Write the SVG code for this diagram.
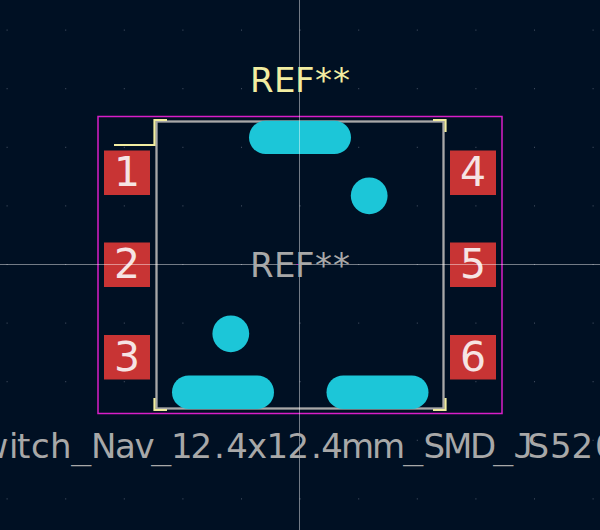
<svg xmlns="http://www.w3.org/2000/svg" width="600" height="530" viewBox="0 0 600 530">
<style>
.grid{fill:#4a5568}
.pad{fill:#c83434}
.num{font-family:"DejaVu Sans",sans-serif;font-size:41px;fill:#f6e4e4;text-anchor:middle}
.via{fill:#1cc6d8}
.silk{fill:none;stroke:#f2eda1;stroke-width:2.2}
.ref{font-family:"DejaVu Sans",sans-serif;font-size:34px}
.fab{fill:#a8a8a8}
.mono{font-family:"DejaVu Sans Mono",monospace}
</style>
<defs>
<pattern id="dots" x="6.6" y="29.6" width="58.6" height="58.6" patternUnits="userSpaceOnUse"><rect x="0" y="0" width="1" height="1" class="grid"/></pattern>
</defs>
<rect width="600" height="530" fill="#001023"/>
<rect id="grid" width="600" height="530" fill="url(#dots)"/>
<g id="courtyard"><rect x="98" y="116.500" width="404" height="297" fill="none" stroke="#d81ec8" stroke-width="1.500"/></g>
<g id="fab-outline"><rect x="156.500" y="121.500" width="287" height="287" fill="none" stroke="#a8a8a8" stroke-width="2.300"/></g>
<g id="silk-outline">
<path class="silk" d="M114 145H154.500V120H167"/>
<path class="silk" d="M433 120H445.500V132"/>
<path class="silk" d="M154.500 398V410H167"/>
<path class="silk" d="M433 410H445.500V398"/>
</g>
<g id="pad-a"><rect class="via" x="249" y="120.700" width="102" height="33.400" rx="16.700"/></g>
<g id="pad-b"><rect class="via" x="172" y="375.400" width="102" height="33.600" rx="16.800"/></g>
<g id="pad-c"><rect class="via" x="326.500" y="375.400" width="102" height="33.600" rx="16.800"/></g>
<g id="hole-a"><circle class="via" cx="369.200" cy="195.800" r="18.400"/></g>
<g id="hole-b"><circle class="via" cx="230.800" cy="333.800" r="18.400"/></g>
<g id="pin-1"><rect class="pad" x="104" y="150.500" width="46" height="44.500"/><text class="num" x="127" y="185.500">1</text></g>
<g id="pin-2"><rect class="pad" x="104" y="242.500" width="46" height="44.500"/><text class="num" x="127" y="278">2</text></g>
<g id="pin-3"><rect class="pad" x="104" y="335" width="46" height="44.500"/><text class="num" x="127" y="370.500">3</text></g>
<g id="pin-4"><rect class="pad" x="450" y="150.500" width="46" height="44.500"/><text class="num" x="473" y="185.500">4</text></g>
<g id="pin-5"><rect class="pad" x="450" y="242.500" width="46" height="44.500"/><text class="num" x="473" y="278">5</text></g>
<g id="pin-6"><rect class="pad" x="450" y="335" width="46" height="44.500"/><text class="num" x="473" y="370.500">6</text></g>
<g id="crosshair" stroke="#fff" stroke-opacity=".45" stroke-width="1"><path d="M299.500 0V530M0 264.500H600" fill="none"/></g>
<g id="ref-silk"><text class="ref" x="250 274 295 315 333" y="92" fill="#f2eda1">REF**</text></g>
<g id="ref-fab"><text class="ref fab" x="250 274 295 315 333" y="276.500">REF**</text></g>
<rect id="anchor" x="296.500" y="264" width="1.500" height="1" fill="#d81ec8"/>
<g id="value"><text class="ref fab" y="458"><tspan x="-19.500 9 17 31 50">witch</tspan><tspan class="mono" x="71">_</tspan><tspan x="91 115 134.500">Nav</tspan><tspan class="mono" x="151">_</tspan><tspan x="171 190.500 214 226.300 247 266.500 287.500 311 321.300 341 372">12.4x12.4mm</tspan><tspan class="mono" x="403">_</tspan><tspan x="423.500 443 470">SMD</tspan><tspan class="mono" x="493">_J</tspan><tspan x="527.500 550 571.500 595">S520</tspan></text></g>
</svg>
